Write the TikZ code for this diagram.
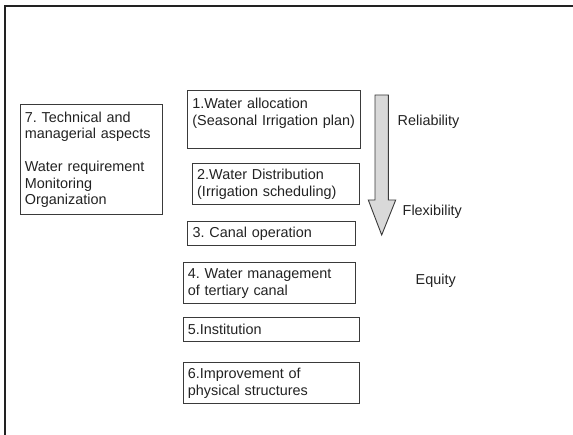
\documentclass[tikz,border=0pt]{standalone}
\usepackage{fontspec}
\setmainfont{Liberation Sans}
\usepackage{xcolor}
\usepackage{tikz}
\usetikzlibrary{positioning}
\definecolor{irrink}{HTML}{222222}
\definecolor{irrline}{HTML}{3A3A3A}
\definecolor{irrarrow}{HTML}{D9D9D9}
\newcommand{\irrfont}{\fontsize{14.4pt}{16.5pt}\selectfont\frenchspacing}

\begin{document}
\begin{tikzpicture}[
    x=1pt,y=-1pt,
    task/.style={draw=irrline,line width=0.8pt,anchor=north west,align=left,inner xsep=5pt,inner ysep=0pt,font=\irrfont,text=irrink},
    crit/.style={inner sep=0pt,anchor=base west,font=\irrfont,text=irrink}
  ]
    \useasboundingbox (0,0) rectangle (573,435);
    \draw[irrink,line width=2pt] (573,6.5) -- (5,6.5) -- (5,435);

    \node[task,text width=132pt,minimum height=110pt] (tech) at (19.5,104.3) {7. Technical and\\managerial aspects\\[16.5pt]Water requirement\\Monitoring\\Organization};

    \node[task,text width=163.3pt,minimum height=58pt] (alloc) at (187,90.5) {1.Water allocation\\(Seasonal Irrigation plan)\\\mbox{}};
    \node[task,text width=157.4pt,minimum height=41pt] (distr) at (191.8,163.3) {2.Water Distribution\\(Irrigation scheduling)};
    \node[task,text width=157.8pt,minimum height=24pt] (canal) at (187.2,221.3) {3. Canal operation};
    \node[task,text width=162.3pt,minimum height=41pt] (tert) at (182.5,262.5) {4. Water management\\of tertiary canal};
    \node[task,text width=166.8pt,minimum height=24pt] (inst) at (182.5,316.7) {5.Institution};
    \node[task,text width=166.8pt,minimum height=41pt] (phys) at (182.5,362.3) {6.Improvement of\\physical structures};

    % downward arrow
    \draw[draw=irrline,fill=irrarrow,line width=0.9pt,line join=miter]
      (375,95) -- (388.3,95) -- (388.3,200) -- (395.7,200) -- (381.7,235) -- (368.3,200) -- (375,200) -- cycle;

    \node[crit] (rel) at (397.5,125.5) {Reliability};
    \node[crit] (flex) at (402.5,216) {Flexibility};
    \node[crit] (eq) at (415.5,284.5) {Equity};
  \end{tikzpicture}
\end{document}
